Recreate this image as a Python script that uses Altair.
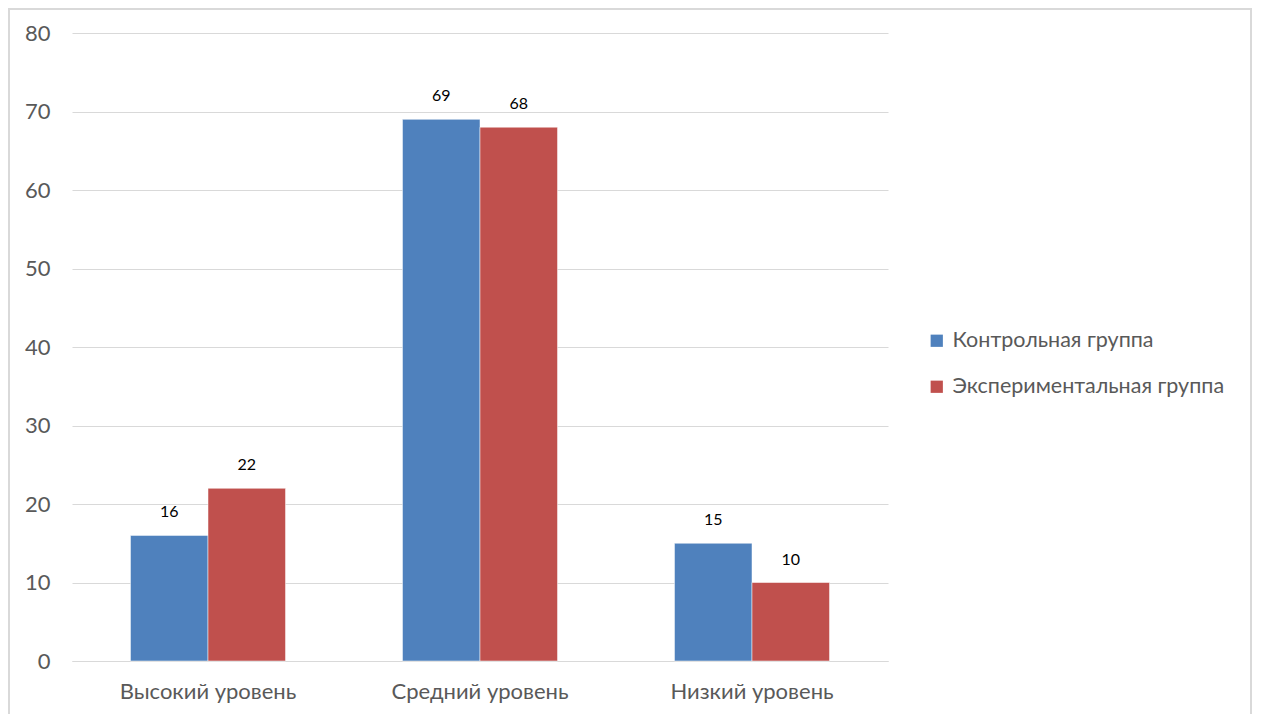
import altair as alt
import pandas as pd

categories = ["Высокий уровень", "Средний уровень", "Низкий уровень"]
series = ["Контрольная группа", "Экспериментальная группа"]
control = [16, 69, 15]
experimental = [22, 68, 10]
colors = ["#4F81BD", "#C0504D"]

rows = []
for c, a, b in zip(categories, control, experimental):
    rows.append({"cat": c, "group": series[0], "value": a})
    rows.append({"cat": c, "group": series[1], "value": b})
df = pd.DataFrame(rows)

FONT = "Lato"
W, H = 816, 628
PL, PT = 64, 25
TW, TH = 1245, 706

x = alt.X("cat:N", sort=categories, title=None,
          scale=alt.Scale(paddingInner=0.43, paddingOuter=0.215),
          axis=alt.Axis(labelAngle=0, labelFontSize=22, labelColor="#595959",
                        labelFont=FONT, ticks=False, domain=True, domainColor="#d9d9d9",
                        labelPadding=20, grid=False, labelLimit=0))
y = alt.Y("value:Q", title=None,
          scale=alt.Scale(domain=[0, 80]),
          axis=alt.Axis(values=list(range(0, 81, 10)), labelFontSize=22, labelColor="#595959",
                        labelFont=FONT, ticks=False, domain=False, gridColor="#d9d9d9",
                        labelPadding=22))
color = alt.Color("group:N", sort=series,
                  scale=alt.Scale(domain=series, range=colors),
                  legend=alt.Legend(title=None, orient="none", legendX=854, legendY=297,
                                    symbolType="square", symbolSize=150, symbolStrokeWidth=0,
                                    labelFontSize=21.5, labelColor="#595959", labelFont=FONT,
                                    rowPadding=23, padding=0, labelOffset=5, labelLimit=0))

bars = alt.Chart(df).mark_bar(stroke="white", strokeWidth=0.5).encode(
    x=x, y=y, color=color, xOffset=alt.XOffset("group:N", sort=series)
)
labels = alt.Chart(df).mark_text(fontSize=16, font=FONT, color="#000000", dy=-23).encode(
    x=alt.X("cat:N", sort=categories), y="value:Q",
    xOffset=alt.XOffset("group:N", sort=series), text="value:Q"
)
border = alt.Chart(pd.DataFrame({"a": [0]})).mark_rect(
    fill=None, stroke="#d9d9d9", strokeWidth=2
).encode(
    x=alt.value(-PL + 1), x2=alt.value(TW - PL - 2),
    y=alt.value(-PT + 1), y2=alt.value(TH + 20)
)

chart = alt.layer(bars, labels, border).properties(
    width=W, height=H,
    autosize=alt.AutoSizeParams(type="none"),
    padding={"left": PL, "top": PT, "right": TW - PL - W, "bottom": TH - PT - H},
).configure(background="white", view=alt.ViewConfig(stroke=None))

chart.save("out.html", embed_options={"renderer": "svg", "actions": False})
